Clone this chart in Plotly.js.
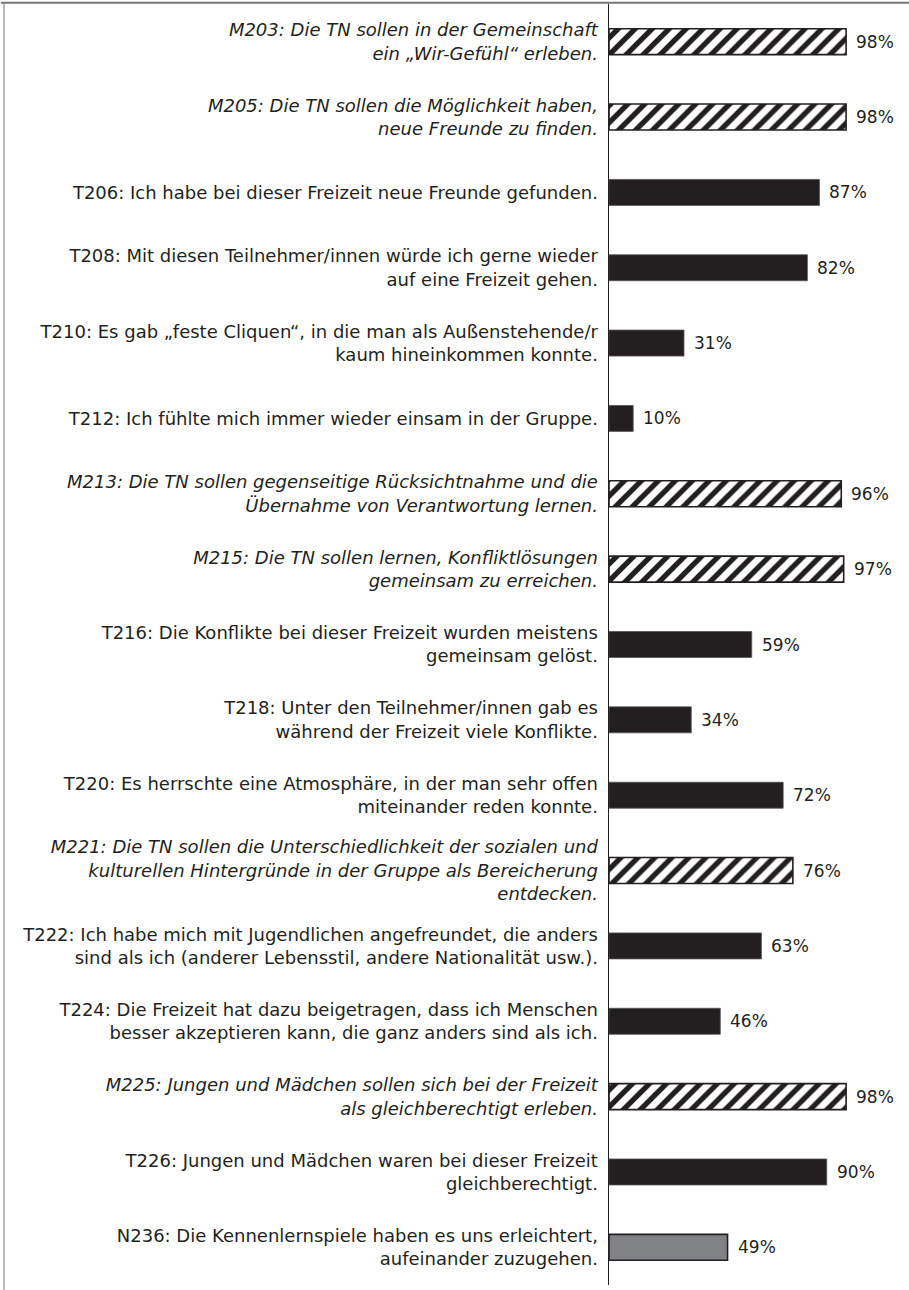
<!DOCTYPE html>
<html>
<head>
<meta charset="utf-8">
<script src="https://cdn.plot.ly/plotly-3.0.1.min.js"></script>
<style>
  html, body { margin: 0; padding: 0; background: #fff; }
  #chart { width: 909px; height: 1290px; }
</style>
</head>
<body>
<div id="chart"></div>
<script>
// ---- data ----
const labels = [
  "M203: Die TN sollen in der Gemeinschaft<br>ein „Wir-Gefühl“ erleben.",
  "M205: Die TN sollen die Möglichkeit haben,<br>neue Freunde zu finden.",
  "T206: Ich habe bei dieser Freizeit neue Freunde gefunden.",
  "T208: Mit diesen Teilnehmer/innen würde ich gerne wieder<br>auf eine Freizeit gehen.",
  "T210: Es gab „feste Cliquen“, in die man als Außenstehende/r<br>kaum hineinkommen konnte.",
  "T212: Ich fühlte mich immer wieder einsam in der Gruppe.",
  "M213: Die TN sollen gegenseitige Rücksichtnahme und die<br>Übernahme von Verantwortung lernen.",
  "M215: Die TN sollen lernen, Konfliktlösungen<br>gemeinsam zu erreichen.",
  "T216: Die Konflikte bei dieser Freizeit wurden meistens<br>gemeinsam gelöst.",
  "T218: Unter den Teilnehmer/innen gab es<br>während der Freizeit viele Konflikte.",
  "T220: Es herrschte eine Atmosphäre, in der man sehr offen<br>miteinander reden konnte.",
  "M221: Die TN sollen die Unterschiedlichkeit der sozialen und<br>kulturellen Hintergründe in der Gruppe als Bereicherung<br>entdecken.",
  "T222: Ich habe mich mit Jugendlichen angefreundet, die anders<br>sind als ich (anderer Lebensstil, andere Nationalität usw.).",
  "T224: Die Freizeit hat dazu beigetragen, dass ich Menschen<br>besser akzeptieren kann, die ganz anders sind als ich.",
  "M225: Jungen und Mädchen sollen sich bei der Freizeit<br>als gleichberechtigt erleben.",
  "T226: Jungen und Mädchen waren bei dieser Freizeit<br>gleichberechtigt.",
  "N236: Die Kennenlernspiele haben es uns erleichtert,<br>aufeinander zuzugehen."
];
const values = [98, 98, 87, 82, 31, 10, 96, 97, 59, 34, 72, 76, 63, 46, 98, 90, 49];
// item type from code prefix: M = hatched, T = black, N = grey
const types = labels.map(l => l.charAt(0));

// ---- styling ----
const DARK = "#231f20";
const FONT = "DejaVu Sans, sans-serif";
const ids = labels.map((l, i) => "c" + i);
const tickText = labels.map((l, i) => types[i] === "M" ? "<i>" + l.split("<br>").join("</i><br><i>") + "</i>" : l);

const styles = {
  M: { marker: { color: "#ffffff", line: { color: DARK, width: 1.6 },
       pattern: { shape: "/", fgcolor: DARK, bgcolor: "#ffffff", size: 12, solidity: 0.45 } } },
  T: { marker: { color: DARK, line: { color: "#555555", width: 0.8 } } },
  N: { marker: { color: "#808285", line: { color: DARK, width: 1.6 } } }
};

const traces = ["M", "T", "N"].map(t => {
  const y = [], x = [];
  types.forEach((tp, i) => { if (tp === t) { y.push(ids[i]); x.push(values[i]); } });
  return Object.assign({ type: "bar", orientation: "h", y: y, x: x, hoverinfo: "skip", showlegend: false }, styles[t]);
});

const annotations = values.map((v, i) => ({
  x: v, y: ids[i], xref: "x", yref: "y",
  text: v + "%", showarrow: false,
  xanchor: "left", yanchor: "middle", xshift: 8,
  font: { family: FONT, size: 17, color: DARK }
}));

const layout = {
  width: 909, height: 1290,
  margin: { l: 609, r: 0, t: 4, b: 5, pad: 0 },
  paper_bgcolor: "#ffffff", plot_bgcolor: "#ffffff",
  barmode: "overlay",
  bargap: 0.655,
  xaxis: { range: [0, 124], visible: false, fixedrange: true },
  yaxis: {
    type: "category",
    categoryorder: "array", categoryarray: ids,
    autorange: "reversed",
    tickmode: "array", tickvals: ids, ticktext: tickText,
    showline: true, linecolor: DARK, linewidth: 1.5,
    showgrid: false, zeroline: false,
    ticks: "", ticklabelstandoff: 6,
    tickfont: { family: FONT, size: 18, color: DARK }
  },
  annotations: annotations,
  shapes: [
    { type: "line", xref: "paper", yref: "paper", x0: -609/300 + 0.003, x1: 1, y0: 1.001, y1: 1.001, line: { color: "#777777", width: 2 } },
    { type: "line", xref: "paper", yref: "paper", x0: -605/300, x1: -605/300, y0: 1.001, y1: -0.01, line: { color: "#777777", width: 1 } }
  ]
};

Plotly.newPlot("chart", traces, layout, { displayModeBar: false, staticPlot: true });
</script>
</body>
</html>
